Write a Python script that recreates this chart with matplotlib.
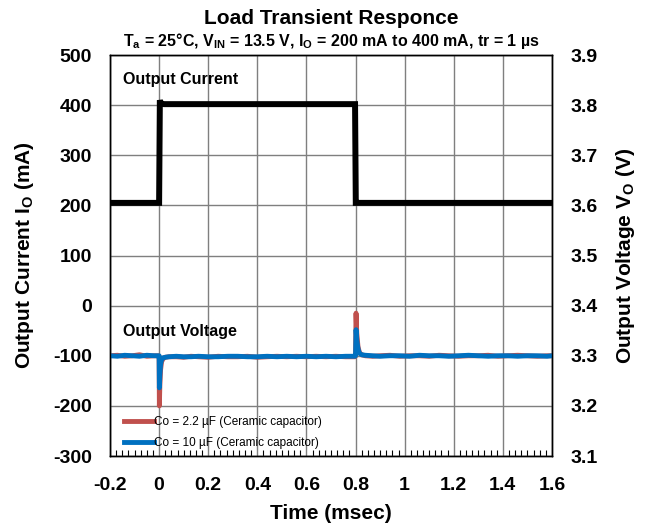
import matplotlib
matplotlib.use("Agg")
import matplotlib.pyplot as plt
from matplotlib.ticker import MultipleLocator

plt.rcParams['font.family'] = ['Liberation Sans', 'DejaVu Sans']
plt.rcParams['mathtext.fontset'] = 'custom'
plt.rcParams['mathtext.rm'] = 'Liberation Sans:bold'
plt.rcParams['mathtext.bf'] = 'Liberation Sans:bold'
plt.rcParams['mathtext.it'] = 'Liberation Sans:bold'
plt.rcParams['mathtext.default'] = 'bf'

# ---- data ----
current_time = [-0.2, -0.1, 0.0, 0.003, 0.006, 0.02, 0.2, 0.4, 0.6, 0.798,
                0.801, 0.804, 1.0, 1.2, 1.4, 1.6]
current_mA = [205, 205, 205, 410, 404, 402, 402, 402, 402, 402,
              205, 205, 205, 205, 205, 205]

volt_time = [-0.2, -0.17, -0.14, -0.11, -0.08, -0.05, -0.02, -0.003, 0.0,
             0.001, 0.003, 0.006, 0.01, 0.016, 0.025, 0.04, 0.07, 0.1, 0.13,
             0.16, 0.2, 0.24, 0.28, 0.32, 0.36, 0.4, 0.44, 0.48, 0.52, 0.56,
             0.6, 0.64, 0.68, 0.72, 0.76, 0.79, 0.798, 0.8, 0.802, 0.805,
             0.81, 0.816, 0.825, 0.84, 0.87, 0.9, 0.94, 0.98, 1.02, 1.06,
             1.1, 1.14, 1.18, 1.22, 1.26, 1.3, 1.34, 1.38, 1.42, 1.46, 1.5,
             1.54, 1.58, 1.6]
volt_c22 = [3.300, 3.301, 3.299, 3.300, 3.302, 3.299, 3.300, 3.300, 3.299,
            3.200, 3.240, 3.272, 3.288, 3.294, 3.297, 3.298, 3.298, 3.297, 3.299,
            3.298, 3.297, 3.299, 3.298, 3.298, 3.299, 3.297, 3.298, 3.299, 3.298, 3.299,
            3.298, 3.299, 3.298, 3.299, 3.298, 3.298, 3.298, 3.300, 3.385, 3.345,
            3.318, 3.306, 3.302, 3.300, 3.299, 3.300, 3.301, 3.299, 3.300, 3.300,
            3.299, 3.301, 3.300, 3.299, 3.300, 3.300, 3.301, 3.299, 3.300, 3.301, 3.300,
            3.299, 3.300, 3.300]
volt_c10 = [3.300, 3.299, 3.301, 3.300, 3.299, 3.301, 3.300, 3.300, 3.300,
            3.236, 3.262, 3.283, 3.292, 3.296, 3.297, 3.298, 3.299, 3.298, 3.298,
            3.299, 3.298, 3.298, 3.299, 3.299, 3.298, 3.298, 3.299, 3.298, 3.299, 3.298,
            3.299, 3.298, 3.299, 3.298, 3.299, 3.299, 3.299, 3.300, 3.352, 3.332,
            3.314, 3.305, 3.302, 3.301, 3.300, 3.299, 3.300, 3.300, 3.299, 3.301,
            3.300, 3.300, 3.299, 3.300, 3.301, 3.300, 3.299, 3.300, 3.300, 3.299, 3.300,
            3.300, 3.299, 3.300]

x_ticks = [-0.2, 0, 0.2, 0.4, 0.6, 0.8, 1, 1.2, 1.4, 1.6]
x_labels = ['-0.2', '0', '0.2', '0.4', '0.6', '0.8', '1', '1.2', '1.4', '1.6']
left_ticks = [-300, -200, -100, 0, 100, 200, 300, 400, 500]
right_ticks = [3.1, 3.2, 3.3, 3.4, 3.5, 3.6, 3.7, 3.8, 3.9]

fig = plt.figure(figsize=(6.49, 5.30), dpi=100)
ax = fig.add_axes([0.1695, 0.1396, 0.681, 0.7566])
ax2 = ax.twinx()

ax.set_xlim(-0.2, 1.6)
ax.set_ylim(-300, 500)
ax2.set_ylim(3.1, 3.9)

ax.set_xticks(x_ticks)
ax.set_xticklabels(x_labels)
ax.xaxis.set_minor_locator(MultipleLocator(0.025))
ax.set_yticks(left_ticks)
ax.set_yticklabels([str(v) for v in left_ticks])
ax2.set_yticks(right_ticks)
ax2.set_yticklabels(['%.1f' % v for v in right_ticks])

ax.grid(True, which='major', color='#7f7f7f', linewidth=1.0)
ax.set_axisbelow(True)

ax.tick_params(axis='x', which='major', length=0, pad=15, labelsize=14)
ax.tick_params(axis='x', which='minor', direction='in', length=4, width=0.8, color='black')
ax.tick_params(axis='y', length=0, pad=13, labelsize=14)
ax2.tick_params(axis='y', length=0, pad=13, labelsize=14)
for lab in ax.get_xticklabels() + ax.get_yticklabels() + ax2.get_yticklabels():
    lab.set_fontweight('bold')

for a in (ax, ax2):
    for s in a.spines.values():
        s.set_color('black')
        s.set_linewidth(1.0)

ax.plot(current_time, current_mA, color='black', linewidth=4.3, solid_joinstyle='miter')
ax2.plot(volt_time, volt_c22, color='#C0504D', linewidth=3.5, solid_joinstyle='round',
         label='Co = 2.2 µF (Ceramic capacitor)')
ax2.plot(volt_time, volt_c10, color='#0070C0', linewidth=3.5, solid_joinstyle='round',
         label='Co = 10 µF (Ceramic capacitor)')

ax.text(-0.147, 452, 'Output Current', fontsize=11.5, fontweight='bold', va='center')
ax.text(-0.147, -52, 'Output Voltage', fontsize=11.5, fontweight='bold', va='center')

leg = ax2.legend(loc='lower left', bbox_to_anchor=(0.014, -0.004), frameon=False,
                 fontsize=8.5, handlelength=2.5, handletextpad=0.0, labelspacing=0.75,
                 borderaxespad=0.3)

ax.set_xlabel('Time (msec)', fontsize=15, fontweight='bold', labelpad=7)
ax.set_ylabel('Output Current I$_O$ (mA)', fontsize=15, fontweight='bold', labelpad=12)
ax2.set_ylabel('Output Voltage V$_O$ (V)', fontsize=15, fontweight='bold', labelpad=12)

fig.text(0.51, 0.966, 'Load Transient Responce', ha='center', va='center',
         fontsize=15, fontweight='bold')
fig.text(0.51, 0.923, 'T$_a$ = 25°C, V$_{IN}$ = 13.5 V, I$_O$ = 200 mA to 400 mA, tr = 1 µs',
         ha='center', va='center', fontsize=11.5, fontweight='bold')

fig.savefig('out.png', dpi=100)
